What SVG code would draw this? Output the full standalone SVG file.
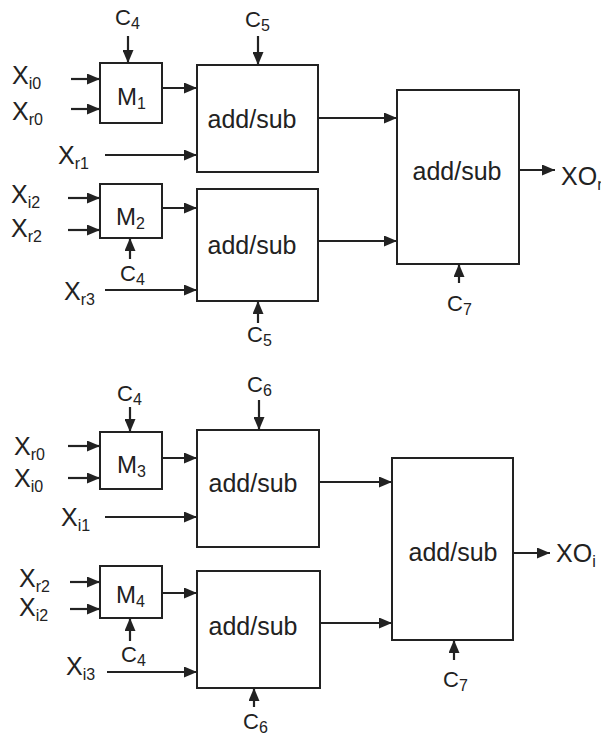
<svg xmlns="http://www.w3.org/2000/svg" width="601" height="738" viewBox="0 0 601 738">
<style>
.box{fill:none;stroke:#222;stroke-width:2}
.w{stroke:#222;stroke-width:2.2;fill:none}
.t{font-family:"Liberation Sans",Arial,sans-serif;fill:#222}
.lx{font-size:25px}
.lc{font-size:22px}
.lm{font-size:24px}
.la{font-size:25px}
.s{font-size:16px}
</style>
<defs>
<marker id="ah" markerUnits="userSpaceOnUse" markerWidth="14" markerHeight="11" refX="13" refY="5.5" orient="auto">
<path d="M0,0 L13,5.5 L0,11 z" fill="#222"/>
</marker>
</defs>
<rect width="601" height="738" fill="#fff"/>

<g id="m1"><rect class="box" x="100" y="63" width="62" height="60"/><text class="t lm" x="117" y="105">M<tspan class="s" dy="4">1</tspan></text></g>
<g id="m2"><rect class="box" x="100" y="184" width="62" height="54"/><text class="t lm" x="116" y="225">M<tspan class="s" dy="4">2</tspan></text></g>
<g id="m3"><rect class="box" x="100" y="432" width="62" height="57"/><text class="t lm" x="117" y="473">M<tspan class="s" dy="4">3</tspan></text></g>
<g id="m4"><rect class="box" x="100" y="566" width="62" height="52"/><text class="t lm" x="116" y="603">M<tspan class="s" dy="4">4</tspan></text></g>

<g id="as1"><rect class="box" x="197" y="65" width="121" height="107"/><text class="t la" x="252" y="128" text-anchor="middle">add/sub</text></g>
<g id="as2"><rect class="box" x="197" y="189" width="121" height="112"/><text class="t la" x="252" y="254" text-anchor="middle">add/sub</text></g>
<g id="as3"><rect class="box" x="397" y="90" width="122" height="174"/><text class="t la" x="457" y="180" text-anchor="middle">add/sub</text></g>
<g id="as4"><rect class="box" x="197" y="430" width="122" height="117"/><text class="t la" x="253" y="492" text-anchor="middle">add/sub</text></g>
<g id="as5"><rect class="box" x="197" y="571" width="123" height="117"/><text class="t la" x="253" y="635" text-anchor="middle">add/sub</text></g>
<g id="as6"><rect class="box" x="392" y="458" width="121" height="182"/><text class="t la" x="453" y="561" text-anchor="middle">add/sub</text></g>

<g id="connectors">
<line class="w" x1="128" y1="36" x2="128" y2="63" marker-end="url(#ah)"/>
<line class="w" x1="71" y1="79" x2="100" y2="79" marker-end="url(#ah)"/>
<line class="w" x1="71" y1="109" x2="100" y2="109" marker-end="url(#ah)"/>
<line class="w" x1="162" y1="88" x2="197" y2="88" marker-end="url(#ah)"/>
<line class="w" x1="105" y1="155" x2="197" y2="155" marker-end="url(#ah)"/>
<line class="w" x1="258" y1="36" x2="258" y2="65" marker-end="url(#ah)"/>
<line class="w" x1="318" y1="118" x2="397" y2="118" marker-end="url(#ah)"/>

<line class="w" x1="68" y1="198" x2="100" y2="198" marker-end="url(#ah)"/>
<line class="w" x1="68" y1="230" x2="100" y2="230" marker-end="url(#ah)"/>
<line class="w" x1="162" y1="208" x2="197" y2="208" marker-end="url(#ah)"/>
<line class="w" x1="130" y1="259" x2="130" y2="238" marker-end="url(#ah)"/>
<line class="w" x1="105" y1="290" x2="197" y2="290" marker-end="url(#ah)"/>
<line class="w" x1="258" y1="323" x2="258" y2="301" marker-end="url(#ah)"/>
<line class="w" x1="318" y1="241" x2="397" y2="241" marker-end="url(#ah)"/>

<line class="w" x1="519" y1="170" x2="555" y2="170" marker-end="url(#ah)"/>
<line class="w" x1="459" y1="283" x2="459" y2="264" marker-end="url(#ah)"/>

<line class="w" x1="130" y1="407" x2="130" y2="432" marker-end="url(#ah)"/>
<line class="w" x1="68" y1="446" x2="100" y2="446" marker-end="url(#ah)"/>
<line class="w" x1="68" y1="478" x2="100" y2="478" marker-end="url(#ah)"/>
<line class="w" x1="162" y1="458" x2="197" y2="458" marker-end="url(#ah)"/>
<line class="w" x1="105" y1="517" x2="197" y2="517" marker-end="url(#ah)"/>
<line class="w" x1="259" y1="400" x2="259" y2="430" marker-end="url(#ah)"/>
<line class="w" x1="319" y1="482" x2="392" y2="482" marker-end="url(#ah)"/>

<line class="w" x1="70" y1="582" x2="100" y2="582" marker-end="url(#ah)"/>
<line class="w" x1="70" y1="609" x2="100" y2="609" marker-end="url(#ah)"/>
<line class="w" x1="162" y1="593" x2="197" y2="593" marker-end="url(#ah)"/>
<line class="w" x1="130" y1="641" x2="130" y2="618" marker-end="url(#ah)"/>
<line class="w" x1="107" y1="672" x2="197" y2="672" marker-end="url(#ah)"/>
<line class="w" x1="254" y1="707" x2="254" y2="688" marker-end="url(#ah)"/>
<line class="w" x1="320" y1="623" x2="392" y2="623" marker-end="url(#ah)"/>

<line class="w" x1="513" y1="553" x2="550" y2="553" marker-end="url(#ah)"/>
<line class="w" x1="454" y1="660" x2="454" y2="640" marker-end="url(#ah)"/>
</g>

<g id="labels">
<text class="t lx" x="12" y="84">X<tspan class="s" dy="5">i0</tspan></text>
<text class="t lx" x="12" y="120">X<tspan class="s" dy="5">r0</tspan></text>
<text class="t lx" x="58" y="164">X<tspan class="s" dy="5">r1</tspan></text>
<text class="t lx" x="11" y="203">X<tspan class="s" dy="5">i2</tspan></text>
<text class="t lx" x="11" y="237">X<tspan class="s" dy="5">r2</tspan></text>
<text class="t lx" x="64" y="300">X<tspan class="s" dy="5">r3</tspan></text>
<text class="t lx" x="14" y="455">X<tspan class="s" dy="5">r0</tspan></text>
<text class="t lx" x="14" y="487">X<tspan class="s" dy="5">i0</tspan></text>
<text class="t lx" x="61" y="526">X<tspan class="s" dy="5">i1</tspan></text>
<text class="t lx" x="19" y="587">X<tspan class="s" dy="5">r2</tspan></text>
<text class="t lx" x="19" y="616">X<tspan class="s" dy="5">i2</tspan></text>
<text class="t lx" x="66" y="675">X<tspan class="s" dy="5">i3</tspan></text>

<text class="t lc" x="115" y="25">C<tspan class="s" dy="4">4</tspan></text>
<text class="t lc" x="245" y="27">C<tspan class="s" dy="4">5</tspan></text>
<text class="t lc" x="120" y="281">C<tspan class="s" dy="4">4</tspan></text>
<text class="t lc" x="247" y="342">C<tspan class="s" dy="4">5</tspan></text>
<text class="t lc" x="447" y="311">C<tspan class="s" dy="4">7</tspan></text>
<text class="t lc" x="117" y="401">C<tspan class="s" dy="4">4</tspan></text>
<text class="t lc" x="247" y="392">C<tspan class="s" dy="4">6</tspan></text>
<text class="t lc" x="121" y="662">C<tspan class="s" dy="4">4</tspan></text>
<text class="t lc" x="243" y="729">C<tspan class="s" dy="4">6</tspan></text>
<text class="t lc" x="443" y="687">C<tspan class="s" dy="4">7</tspan></text>

<text class="t lx" x="561" y="185">XO<tspan class="s" dy="5">r</tspan></text>
<text class="t lx" x="556" y="562">XO<tspan class="s" dy="5">i</tspan></text>
</g>
</svg>
